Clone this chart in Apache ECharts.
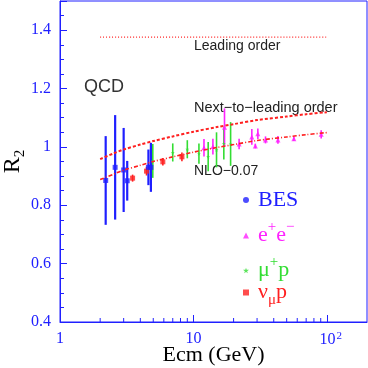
<!DOCTYPE html>
<html>
<head>
<meta charset="utf-8">
<script src="https://cdn.jsdelivr.net/npm/echarts@6/dist/echarts.min.js"></script>
<style>
  html, body { margin: 0; padding: 0; background: #fff; }
  #chart { width: 368px; height: 368px; }
</style>
</head>
<body>
<div id="chart"></div>
<script>
// measured points: energy (GeV), R2, symmetric error
const besE = [2.2, 2.59, 3.0, 3.19, 4.6, 4.8];
const besR = [0.885, 0.930, 0.921, 0.884, 0.930, 0.930];
const besErr = [0.152, 0.179, 0.144, 0.068, 0.061, 0.084];

const eeE = [12.0, 14.0, 17.1, 22.0, 27.4, 29.1, 30.4, 34.7, 43.0, 56.6, 90.7];
const eeR = [0.997, 1.001, 1.067, 1.010, 1.034, 1.003, 1.045, 1.024, 1.024, 1.028, 1.043];
const eeErr = [0.030, 0.027, 0.065, 0.018, 0.027, 0.008, 0.018, 0.012, 0.013, 0.008, 0.014];

const muE = [4.96, 7.0, 9.0, 11.0, 12.9, 14.9, 16.9, 19.0];
const muR = [0.952, 0.981, 0.992, 0.977, 0.967, 0.990, 1.012, 1.010];
const muErr = [0.058, 0.031, 0.031, 0.035, 0.050, 0.060, 0.055, 0.075];

const nuE = [3.5, 4.45, 5.9, 8.2];
const nuR = [0.893, 0.917, 0.949, 0.966];
const nuErr = [0.012, 0.015, 0.013, 0.015];

// QCD curves
const curveE = [2, 2.5, 3, 4, 5, 7, 10, 15, 20, 30, 50, 70, 100];
const nlo = [0.958, 0.977, 0.991, 1.008, 1.020, 1.036, 1.052, 1.068, 1.078, 1.092, 1.104, 1.112, 1.119];
const nloShift = [0.888, 0.906, 0.920, 0.937, 0.950, 0.966, 0.982, 0.998, 1.008, 1.022, 1.034, 1.042, 1.049];
const loE = [2, 100];
const lo = [1.376, 1.376];

const xMinorTicks = [2, 3, 4, 5, 6, 7, 8, 9, 20, 30, 40, 50, 60, 70, 80, 90];

const AXIS = '#2020ff';
const BLUE = '#1f1fff';
const MAGENTA = '#ff22ff';
const GREEN = '#33dd33';
const RED = '#ff2020';
const SERIF = '"Liberation Serif", "DejaVu Serif", serif';
const SANS = '"Liberation Sans", "DejaVu Sans", sans-serif';

function pts(xs, ys, es) {
  return xs.map((x, i) => es ? [x, ys[i], es[i]] : [x, ys[i]]);
}

function errBars(name, xs, ys, es, color, width) {
  return {
    name: name + ' err',
    type: 'custom',
    data: pts(xs, ys, es),
    encode: { x: 0, y: 1 },
    silent: true,
    renderItem: function (params, api) {
      const x = api.value(0), y = api.value(1), e = api.value(2);
      const a = api.coord([x, y + e]);
      const b = api.coord([x, y - e]);
      return {
        type: 'line',
        shape: { x1: a[0], y1: a[1], x2: b[0], y2: b[1] },
        style: { stroke: color, lineWidth: width }
      };
    }
  };
}

function curve(xs, ys, dash, width) {
  return {
    type: 'line',
    data: pts(xs, ys),
    showSymbol: false,
    smooth: 0.3,
    silent: true,
    lineStyle: { color: RED, width: width, type: dash }
  };
}

const starPath = 'path://M0,-1 L0.22,-0.31 L0.95,-0.31 L0.36,0.12 L0.59,0.81 L0,0.38 L-0.59,0.81 L-0.36,0.12 L-0.95,-0.31 L-0.22,-0.31 Z';

function legendAt(name, icon, top, fmt, color) {
  return {
    data: [{ name: name, icon: icon }],
    left: 243,
    top: top,
    padding: 0,
    itemWidth: 6,
    itemHeight: 6,
    selectedMode: false,
    formatter: fmt,
    textStyle: {
      color: color,
      fontFamily: SERIF,
      rich: {
        a: { fontSize: 22, fontFamily: SERIF, color: color, lineHeight: 24, padding: [0, 0, 0, 4] },
        b: { fontSize: 22, fontFamily: SERIF, color: color, lineHeight: 24 },
        sup: { fontSize: 15, fontFamily: SERIF, color: color, lineHeight: 15, padding: [0, 0, 16, 0] },
        sub: { fontSize: 15, fontFamily: SERIF, color: color, lineHeight: 15, padding: [16, 0, 0, 0] }
      }
    }
  };
}

const chart = echarts.init(document.getElementById('chart'));
chart.setOption({
  animation: false,
  backgroundColor: '#fff',
  grid: {
    left: 60, right: 1, top: 1, bottom: 46,
    containLabel: false,
    outerBoundsMode: 'none',
    show: true, borderColor: AXIS, borderWidth: 1
  },
  xAxis: {
    type: 'log',
    logBase: 10,
    min: 1,
    max: 200,
    name: 'Ecm (GeV)',
    nameLocation: 'middle',
    nameGap: 22,
    nameMoveOverlap: false,
    nameTextStyle: { fontFamily: SERIF, fontSize: 22, color: '#000' },
    axisLine: { lineStyle: { color: AXIS, width: 1 } },
    axisTick: { inside: true, length: 7, lineStyle: { color: AXIS } },
    splitLine: { show: false },
    axisLabel: {
      color: AXIS,
      fontFamily: SERIF,
      fontSize: 16,
      margin: 9,
      showMaxLabel: false,
      formatter: function (v) {
        if (v >= 100) return '{p|10}{sup|2}';
        return String(v);
      },
      rich: {
        p: { fontFamily: SERIF, fontSize: 16, color: AXIS, padding: [0, 0, 0, 8] },
        sup: { fontFamily: SERIF, fontSize: 11, color: AXIS, verticalAlign: 'top', padding: [0, 0, 6, 1] }
      }
    }
  },
  yAxis: {
    type: 'value',
    min: 0.4,
    max: 1.5,
    interval: 0.2,
    name: '{r|R}{s|2}',
    nameLocation: 'middle',
    nameGap: 34,
    nameMoveOverlap: false,
    nameTextStyle: {
      rich: {
        r: { fontFamily: SERIF, fontSize: 24, color: '#000', lineHeight: 26 },
        s: { fontFamily: SERIF, fontSize: 15, color: '#000', lineHeight: 15, padding: [14, 0, 0, 0] }
      }
    },
    axisLine: { lineStyle: { color: AXIS, width: 1 } },
    axisTick: { inside: true, length: 7, lineStyle: { color: AXIS } },
    minorTick: { show: true, splitNumber: 4, length: 4, lineStyle: { color: AXIS } },
    splitLine: { show: false },
    axisLabel: {
      color: AXIS,
      fontFamily: SERIF,
      fontSize: 16,
      margin: 9,
      showMaxLabel: false,
      formatter: function (v) { return Math.abs(v - 1) < 1e-9 ? '1' : v.toFixed(1); }
    }
  },
  legend: [
    legendAt('BES', 'circle', 189, '{a|BES}', BLUE),
    legendAt('e+e-', 'triangle', 220, '{a|e}{sup|+}{b|e}{sup|−}', MAGENTA),
    legendAt('mu+p', starPath, 255, '{a|μ}{sup|+}{b|p}', GREEN),
    legendAt('nu_mu p', 'rect', 277, '{a|ν}{sub|μ}{b|p}', RED)
  ],
  graphic: [
    { type: 'text', left: 194, top: 39, style: { text: 'Leading order', font: '14px ' + SANS, fill: '#222' } },
    { type: 'text', left: 194, top: 100, style: { text: 'Next−to−leading order', font: '14.5px ' + SANS, fill: '#222' } },
    { type: 'text', left: 194, top: 164, style: { text: 'NLO−0.07', font: '14px ' + SANS, fill: '#222' } },
    { type: 'text', left: 84, top: 78, style: { text: 'QCD', font: '18px ' + SANS, fill: '#333' } }
  ],
  series: [
    curve(loE, lo, [1, 2], 1.2),
    curve(curveE, nlo, [3, 2], 2),
    curve(curveE, nloShift, [4, 2, 1, 2], 1.6),
    errBars('mu+p', muE, muR, muErr, GREEN, 1.6),
    errBars('e+e-', eeE, eeR, eeErr, MAGENTA, 1.6),
    errBars('nu_mu p', nuE, nuR, nuErr, RED, 1.6),
    errBars('BES', besE, besR, besErr, BLUE, 2.2),
    { name: 'mu+p', type: 'scatter', data: pts(muE, muR), symbol: starPath, symbolSize: 4, itemStyle: { color: GREEN } },
    { name: 'e+e-', type: 'scatter', data: pts(eeE, eeR), symbol: 'triangle', symbolSize: 5, itemStyle: { color: MAGENTA } },
    { name: 'nu_mu p', type: 'scatter', data: pts(nuE, nuR), symbol: 'rect', symbolSize: 5, itemStyle: { color: RED } },
    { name: 'BES', type: 'scatter', data: pts(besE, besR), symbol: 'rect', symbolSize: 5, itemStyle: { color: BLUE } },
    {
      type: 'custom',
      silent: true,
      data: xMinorTicks.map(v => [v, 0.4]),
      encode: { x: 0, y: 1 },
      clip: false,
      renderItem: function (params, api) {
        const p = api.coord([api.value(0), api.value(1)]);
        return {
          type: 'line',
          shape: { x1: p[0], y1: p[1], x2: p[0], y2: p[1] - 4 },
          style: { stroke: AXIS, lineWidth: 1 }
        };
      }
    }
  ]
});
</script>
</body>
</html>
